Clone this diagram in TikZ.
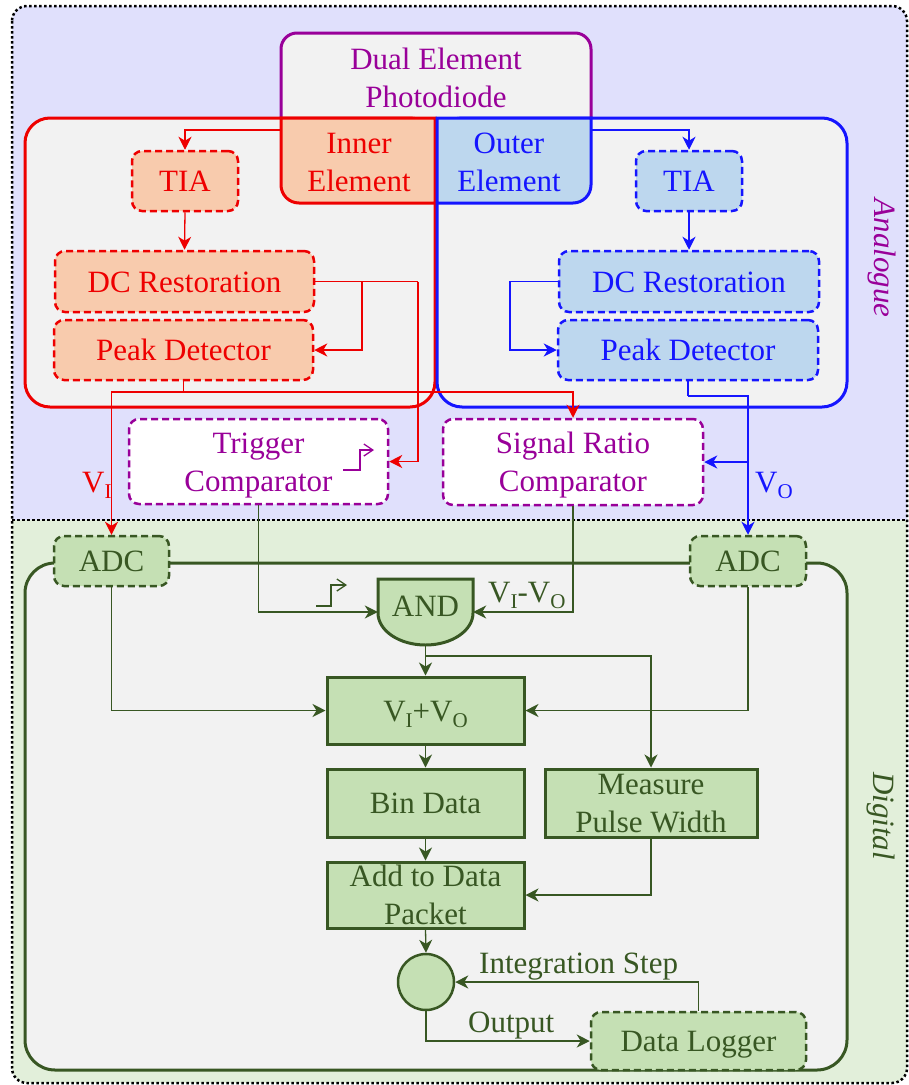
\documentclass[tikz,border=0pt]{standalone}
\usepackage{fontspec}
\setmainfont{Liberation Serif}
\usetikzlibrary{arrows.meta,calc}
\definecolor{lav}{HTML}{E0E0FC}
\definecolor{dgbg}{HTML}{E2EFDA}
\definecolor{pgray}{HTML}{F2F2F2}
\definecolor{cred}{HTML}{EE0000}
\definecolor{cblue}{HTML}{1515FF}
\definecolor{cpurp}{HTML}{990099}
\definecolor{forange}{HTML}{F8CBAD}
\definecolor{fblue}{HTML}{BDD7EE}
\definecolor{fgreen}{HTML}{C5E0B4}
\definecolor{cgreen}{HTML}{385723}

% lowered index for signal names such as V_I
\newcommand{\lowidx}[1]{\raisebox{-6pt}{\fontsize{21}{21}\selectfont #1}}

\begin{document}
\begin{tikzpicture}[x=1pt,y=-1pt,
  every node/.style={font=\fontsize{31}{38}\selectfont, align=center, inner sep=0pt},
  sz/.style 2 args={minimum width=#1pt, minimum height=#2pt},
  oneline/.style={text height=21pt, text depth=0pt},
  twoline/.style={text height=59pt, text depth=0pt},
  dbox/.style={draw, line width=2.5pt, dash pattern=on 7pt off 4pt, rounded corners=10pt},
  redbox/.style={dbox, draw=cred, fill=forange, text=cred},
  bluebox/.style={dbox, draw=cblue, fill=fblue, text=cblue},
  purpbox/.style={dbox, draw=cpurp, fill=white, text=cpurp},
  adcbox/.style={dbox, draw=cgreen, fill=fgreen, text=cgreen},
  gbox/.style={draw=cgreen, line width=3pt, fill=fgreen, text=cgreen},
  wire/.style={line width=1.3pt},
  arr/.style={wire, -{Stealth[length=13pt,width=13pt,inset=4pt]}},
  stepsym/.style={line width=1.3pt, -{Straight Barb[length=9pt,width=12pt]}},
  sidelabel/.style={rotate=-90, font=\fontsize{31}{38}\selectfont\itshape},
]
\useasboundingbox (0,0) rectangle (909,1085);

% ---- analogue / digital regions
\fill[dgbg, rounded corners=15pt] (12,6) rectangle (907,1083);
\begin{scope}
  \clip[rounded corners=15pt] (12,6) rectangle (907,1083);
  \fill[lav] (0,0) rectangle (909,520);
\end{scope}
\draw[line width=2.5pt, dash pattern=on 2.5pt off 2.5pt, rounded corners=15pt] (12,6) rectangle (907,1083);
\draw[line width=2.5pt, dash pattern=on 2.5pt off 2.5pt] (12,520) -- (907,520);

% ---- photodiode and the two analogue channels
\draw[cpurp, line width=3pt, fill=pgray, rounded corners=16pt] (281,33) rectangle (591,210);
\draw[cred, line width=3pt, fill=pgray, rounded corners=25pt] (25,118) rectangle (435,407);
\draw[cblue, line width=3pt, fill=pgray, rounded corners=25pt] (437,118) rectangle (847,407);
\draw[cred, line width=3pt, fill=forange]
  (435,118) -- (435,203) -- (299,203) arc[start angle=-90, end angle=-180, radius=18pt] -- (281,118) -- cycle;
\draw[cblue, line width=3pt, fill=fblue]
  (437,118) -- (591,118) -- (591,185) arc[start angle=0, end angle=-90, radius=18pt] -- (437,203) -- cycle;

% ---- digital panel
\draw[cgreen, line width=3pt, fill=pgray, rounded corners=30pt] (25,563) rectangle (847,1070);

% ---- AND gate outline
\draw[cgreen, line width=3pt, fill=fgreen]
  (378,579) -- (473,579) -- (473,613) arc[start angle=0, end angle=-180, x radius=47.5pt, y radius=32pt] -- cycle;

% ---- nodes
\node[text=cpurp, twoline] (pdlabel) at (436,78) {Dual Element\\Photodiode};
\node[text=cred, twoline] (inner) at (359,162) {Inner\\Element};
\node[text=cblue, twoline] (outer) at (509,162) {Outer\\Element};

\node[redbox, oneline, sz={106}{60}] (tiaI) at (185,181) {TIA};
\node[redbox, oneline, sz={259}{61}] (dcI) at (184.5,281.5) {DC Restoration};
\node[redbox, oneline, sz={259}{60}] (pkI) at (183.5,350) {Peak Detector};

\node[bluebox, oneline, sz={106}{60}] (tiaO) at (689,181) {TIA};
\node[bluebox, oneline, sz={260}{61}] (dcO) at (689,281.5) {DC Restoration};
\node[bluebox, oneline, sz={260}{60}] (pkO) at (688,350) {Peak Detector};

\node[purpbox, twoline, sz={259}{85}] (trig) at (258.5,461.5) {Trigger\\Comparator};
\node[purpbox, twoline, sz={260}{86}] (ratio) at (573,462) {Signal Ratio\\Comparator};

\node[adcbox, oneline, sz={115}{50}] (adcI) at (111.5,561) {ADC};
\node[adcbox, oneline, sz={116}{50}] (adcO) at (748,561) {ADC};

\node[text=cgreen, sz={95}{66}, text height=21pt, text depth=12pt] (and) at (425.5,612) {AND};
\node[gbox, oneline, sz={197}{67}] (sum) at (425.5,710.5) {V\lowidx{I}+V\lowidx{O}};
\node[gbox, oneline, sz={197}{68}] (bin) at (425.5,803) {Bin Data};
\node[gbox, twoline, sz={212}{68}] (pulse) at (651,803) {Measure\\Pulse Width};
\node[gbox, twoline, sz={197}{66}] (packet) at (425.5,895) {Add to Data\\Packet};
\node[gbox, circle, minimum size=56pt, line width=2.5pt] (integ) at (426,982) {};
\node[adcbox, oneline, sz={215}{58}] (logger) at (698.5,1041) {Data Logger};

% ---- analogue wiring: inner element
\coordinate (inL) at (281,130);
\draw[arr, cred] (inL) -| (tiaI.north);
\draw[arr, cred] (tiaI.south) -- (dcI.north);
\coordinate (jI) at (362,281.5);
\coordinate (tI) at (418,281.5);
\draw[wire, cred] (dcI.east) -- (tI);
\draw[arr, cred] (jI) |- (pkI.east);
\draw[arr, cred] (tI) |- (trig.east);
\coordinate (bI) at (183.5,392);
\draw[wire, cred] (pkI.south) -- (bI);
\draw[arr, cred] (bI) -| (adcI.north);
\draw[arr, cred] (bI) -| (ratio.north);

% ---- analogue wiring: outer element
\coordinate (outR) at (591,130);
\draw[arr, cblue] (outR) -| (tiaO.north);
\draw[arr, cblue] (tiaO.south) -- (dcO.north);
\coordinate (jO) at (510,281.5);
\draw[arr, cblue] (dcO.west) -- (jO) |- (pkO.west);
\coordinate (bO) at (688,396);
\draw[wire, cblue] (pkO.south) -- (bO);
\draw[arr, cblue] (bO) -| (adcO.north);
\draw[arr, cblue] (ratio.east -| adcO.north) -- (ratio.east);

% ---- digital wiring
\draw[arr, cgreen] (trig.south) |- (and.west);
\draw[arr, cgreen] (ratio.south) |- (and.east);
\draw[arr, cgreen] (adcI.south) |- (sum.west);
\draw[arr, cgreen] (adcO.south) |- (sum.east);
\draw[arr, cgreen] (and.south) -- (sum.north);
\coordinate (jA) at (425.5,656);
\draw[arr, cgreen] (jA) -| (pulse.north);
\draw[arr, cgreen] (sum.south) -- (bin.north);
\draw[arr, cgreen] (bin.south) -- (packet.north);
\draw[arr, cgreen] (pulse.south) |- (packet.east);
\draw[arr, cgreen] (packet.south) -- (integ.north);
\draw[arr, cgreen] (integ.south) |- (logger.west);
\draw[arr, cgreen] (logger.north) |- (integ.east);

% ---- rising-edge trigger symbols
\draw[stepsym, cpurp] (343,470) -- (360,470) -- (360,450) -- (374,450);
\draw[stepsym, cgreen] (316,606) -- (331,606) -- (331,585) -- (347,585);

% ---- signal labels
\node[text=cred, anchor=base west] (vi) at (82,492) {V\lowidx{I}};
\node[text=cblue, anchor=base west] (vo) at (755,492) {V\lowidx{O}};
\node[text=cgreen, anchor=base west] (vdiff) at (488,602) {V\lowidx{I}-V\lowidx{O}};
\node[text=cgreen, anchor=base west] (outlbl) at (468,1032) {Output};
\node[text=cgreen, anchor=base west] (steplbl) at (479,973) {Integration Step};

% ---- region titles
\node[sidelabel, text=cpurp] (analogue) at (882,258) {Analogue};
\node[sidelabel, text=cgreen] (digital) at (881,816) {Digital};
\end{tikzpicture}
\end{document}
